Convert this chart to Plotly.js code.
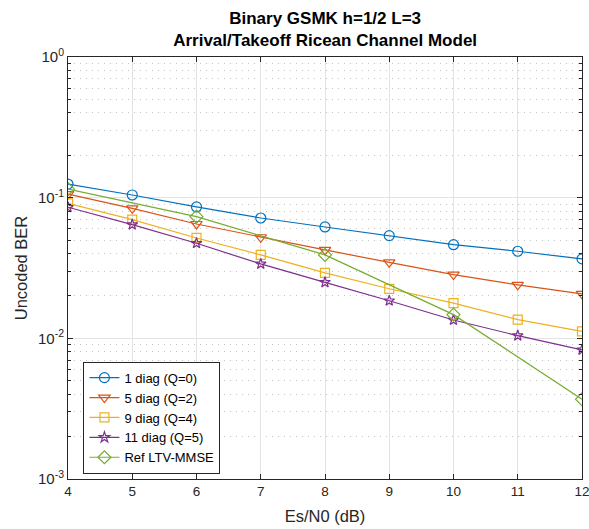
<!DOCTYPE html>
<html>
<head>
<meta charset="utf-8">
<script src="https://cdn.plot.ly/plotly-3.0.1.min.js"></script>
<style>html,body{margin:0;padding:0;background:#fff;}#chart{width:589px;height:529px;}</style>
</head>
<body>
<div id="chart"></div>
<script>
const esn0 = [4, 5, 6, 7, 8, 9, 10, 11, 12];
const diag1 = [0.125, 0.1045, 0.0859, 0.0717, 0.0619, 0.0537, 0.0463, 0.0416, 0.0367];
const diag5 = [0.106, 0.084, 0.065, 0.0523, 0.0425, 0.0347, 0.0284, 0.024, 0.0207];
const diag9 = [0.0912, 0.0698, 0.0517, 0.0392, 0.0292, 0.0225, 0.0178, 0.0136, 0.0112];
const diag11 = [0.0855, 0.0643, 0.0474, 0.0338, 0.025, 0.0185, 0.0135, 0.01045, 0.00827];
const refX = [4, 6, 8, 10, 12];
const refLtv = [0.115, 0.0733, 0.0392, 0.01474, 0.00369];
const seriesNames = ['1 diag (Q=0)', '5 diag (Q=2)', '9 diag (Q=4)', '11 diag (Q=5)', 'Ref LTV-MMSE'];
const yTickVals = [0.001, 0.01, 0.1, 1];
const yTickText = ['10<sup>-3</sup>', '10<sup>-2</sup>', '10<sup>-1</sup>', '10<sup>0</sup>'];

const colors = ['#0072BD', '#D95319', '#EDB120', '#7E2F8E', '#77AC30'];
const symbols = ['circle-open', 'triangle-down-open', 'square-open', 'star-open', 'diamond-open'];
const sizes = [10, 10, 9, 8, 10];
const xs = [esn0, esn0, esn0, esn0, refX];
const ys = [diag1, diag5, diag9, diag11, refLtv];
const FONT = 'Liberation Sans, Arial, Helvetica, sans-serif';

const traces = ys.map((y, i) => ({
  x: xs[i], y: y, name: seriesNames[i], type: 'scatter', mode: 'lines+markers',
  line: {color: colors[i], width: 1.2},
  marker: {symbol: symbols[i], size: sizes[i], color: colors[i], line: {color: colors[i], width: 1.2}}
}));

const minorVals = [];
for (let e = -3; e < 0; e++) for (let k = 2; k <= 9; k++) minorVals.push(k * Math.pow(10, e));

const axisCommon = {
  showline: true, linecolor: '#262626', linewidth: 1, mirror: 'ticks',
  ticks: 'inside', ticklen: 5, tickcolor: '#262626', zeroline: false,
  gridcolor: '#e3e3e3', gridwidth: 1, ticklabeloverflow: 'allow',
  tickfont: {family: FONT, size: 13.5, color: '#262626'}
};

const layout = {
  width: 589, height: 529,
  margin: {l: 68, r: 7, t: 57, b: 50},
  paper_bgcolor: '#fff', plot_bgcolor: '#fff',
  title: {
    text: '<b>Binary GSMK h=1/2 L=3</b><br><b>Arrival/Takeoff Ricean Channel Model</b>',
    font: {family: FONT, size: 17, color: '#000'},
    x: 0.552, xanchor: 'center', yref: 'container', y: 0.954, yanchor: 'bottom'
  },
  xaxis: Object.assign({}, axisCommon, {
    range: [4, 12], dtick: 1, tick0: 4,
    title: {text: 'Es/N0 (dB)', font: {family: FONT, size: 16.5, color: '#262626'}, standoff: 12}
  }),
  yaxis: Object.assign({}, axisCommon, {
    type: 'log', range: [-3, 0], tickmode: 'array', tickvals: yTickVals, ticktext: yTickText,
    tickfont: {family: FONT, size: 15, color: '#262626'},
    minor: {tickmode: 'array', tickvals: minorVals, ticks: 'inside', ticklen: 3, tickcolor: '#262626',
            showgrid: true, gridcolor: '#c4c4c4', griddash: '1px,5px', gridwidth: 1},
    title: {text: 'Uncoded BER', font: {family: FONT, size: 16.5, color: '#262626'}, standoff: 6}
  }),
  legend: {
    x: 0.03, y: 0.278, xanchor: 'left', yanchor: 'top',
    bgcolor: '#fff', bordercolor: '#262626', borderwidth: 1,
    font: {family: FONT, size: 13, color: '#000'},
    tracegroupgap: 0, itemwidth: 30
  },
  showlegend: true
};

Plotly.newPlot('chart', traces, layout, {displayModeBar: false, staticPlot: true});
</script>
</body>
</html>
